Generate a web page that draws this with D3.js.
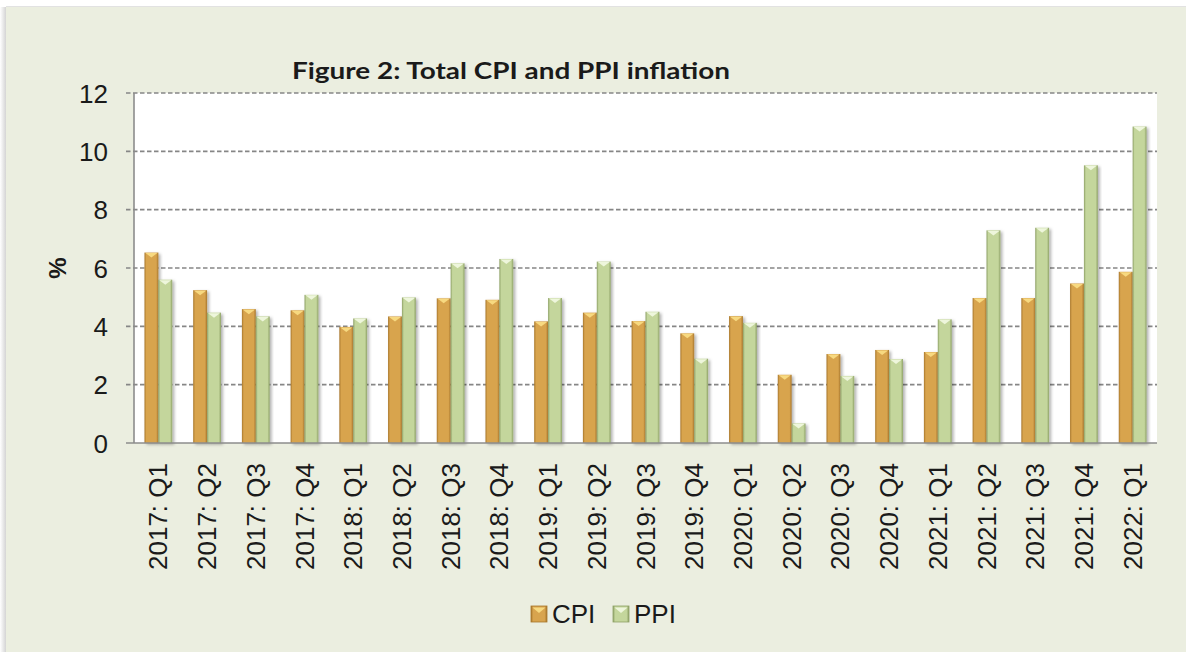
<!DOCTYPE html>
<html>
<head>
<meta charset="utf-8">
<script src="https://cdn.jsdelivr.net/npm/d3@7/dist/d3.min.js"></script>
<style>
  body { margin: 0; background: #ffffff; }
  svg { display: block; }
</style>
</head>
<body>
<div id="chart"></div>
<script>
// Quarters on the x axis
const quarters = [
    "2017: Q1", "2017: Q2", "2017: Q3", "2017: Q4",
    "2018: Q1", "2018: Q2", "2018: Q3", "2018: Q4",
    "2019: Q1", "2019: Q2", "2019: Q3", "2019: Q4",
    "2020: Q1", "2020: Q2", "2020: Q3", "2020: Q4",
    "2021: Q1", "2021: Q2", "2021: Q3", "2021: Q4",
    "2022: Q1"
];

// Inflation, %
const cpi = [6.53, 5.24, 4.59, 4.55, 3.98, 4.34, 4.96, 4.91, 4.17, 4.47, 4.18, 3.76, 4.35, 2.34, 3.05, 3.19, 3.12, 4.97, 4.97, 5.47, 5.87];
const ppi = [5.60, 4.47, 4.34, 5.08, 4.27, 4.99, 6.16, 6.31, 4.97, 6.22, 4.50, 2.89, 4.12, 0.67, 2.30, 2.88, 4.24, 7.29, 7.38, 9.52, 10.85];

const seriesNames = ["CPI", "PPI"];
const yTicks = [0, 2, 4, 6, 8, 10, 12];

const titleText = "Figure 2: Total CPI and PPI inflation";
const yLabel = "%";

// Layout
const width = 1186, height = 652;
const plot = { left: 134, right: 1157, top: 93, bottom: 443 };

const style = {
    panelFill: "#ebeee0",
    gridStroke: "#868686",
    axisStroke: "#8c8c8c",
    textColor: "#1a1a1a",
    font: "'Liberation Sans', Arial, sans-serif",
    titleFont: "Lato, 'DejaVu Sans', sans-serif"
};

const palettes = {
    CPI: { main: "#d8a44e", edge: "#a8772c", top: "#f7d980" },
    PPI: { main: "#c4d69c", edge: "#8ea166", top: "#eef6dc" }
};

const svg = d3.select("#chart").append("svg")
    .attr("width", width).attr("height", height);

const defs = svg.append("defs");

// Gradients for the bevelled bars
seriesNames.forEach(name => {
    const p = palettes[name];
    const g = defs.append("linearGradient").attr("id", "grad-" + name)
        .attr("x1", "0").attr("x2", "1").attr("y1", "0").attr("y2", "0");
    g.append("stop").attr("offset", "0%").attr("stop-color", p.edge);
    g.append("stop").attr("offset", "14%").attr("stop-color", p.main);
    g.append("stop").attr("offset", "84%").attr("stop-color", p.main);
    g.append("stop").attr("offset", "100%").attr("stop-color", p.edge);
});

const shadow = defs.append("filter").attr("id", "barShadow")
    .attr("x", "-30%").attr("y", "-10%").attr("width", "160%").attr("height", "130%");
shadow.append("feDropShadow").attr("dx", 2).attr("dy", 1.5)
    .attr("stdDeviation", 1.5).attr("flood-color", "#000").attr("flood-opacity", 0.3);

const panelShadow = defs.append("linearGradient").attr("id", "panelShadow")
    .attr("x1", "0").attr("x2", "1");
panelShadow.append("stop").attr("offset", "0%").attr("stop-color", "#ffffff");
panelShadow.append("stop").attr("offset", "100%").attr("stop-color", "#d4d4d4");

// Background panel with a soft shadow on its left edge
svg.append("rect").attr("x", 0).attr("y", 7).attr("width", 6).attr("height", height - 7)
    .attr("fill", "url(#panelShadow)");
svg.append("rect").attr("x", 6).attr("y", 7).attr("width", width - 6).attr("height", height - 7)
    .attr("fill", style.panelFill);
svg.append("rect").attr("x", 6).attr("y", 6).attr("width", width - 6).attr("height", 1)
    .attr("fill", "#e2e2e2");

// Plot area
svg.append("rect")
    .attr("x", plot.left).attr("y", plot.top)
    .attr("width", plot.right - plot.left).attr("height", plot.bottom - plot.top)
    .attr("fill", "#ffffff");

// Scales
const x0 = d3.scaleBand().domain(quarters)
    .range([plot.left, plot.right])
    .paddingInner(0.43).paddingOuter(0.215);
const x1 = d3.scaleBand().domain(seriesNames).range([0, x0.bandwidth()]);
const y = d3.scaleLinear().domain([0, 12]).range([plot.bottom, plot.top]);

// Gridlines (dashed) including the outside tick part
svg.append("g").selectAll("line")
    .data(yTicks.filter(t => t > 0))
    .join("line")
    .attr("x1", plot.left - 8).attr("x2", plot.right)
    .attr("y1", d => y(d)).attr("y2", d => y(d))
    .attr("stroke", style.gridStroke).attr("stroke-width", 1.6)
    .attr("stroke-dasharray", "4.5,2.5");

// Y axis labels
const yAxis = d3.axisLeft(y).tickValues(yTicks).tickSize(0).tickPadding(26);
const yAxisG = svg.append("g").attr("transform", `translate(${plot.left},0)`).call(yAxis);
yAxisG.select(".domain").remove();
yAxisG.selectAll("text")
    .attr("font-family", style.font).attr("font-size", 26)
    .attr("fill", style.textColor).attr("dy", "0.35em");

// Y axis title
svg.append("text")
    .attr("transform", "translate(66,268) rotate(-90)")
    .attr("text-anchor", "middle")
    .attr("font-family", style.font).attr("font-weight", "bold").attr("font-size", 24)
    .attr("fill", style.textColor)
    .text(yLabel);

// Bars
const barData = quarters.map((q, i) => ({ q, values: [
    { name: "CPI", v: cpi[i] }, { name: "PPI", v: ppi[i] }
] }));

const groups = svg.append("g").selectAll("g")
    .data(barData).join("g")
    .attr("transform", d => `translate(${x0(d.q)},0)`);

const bars = groups.selectAll("g").data(d => d.values).join("g")
    .attr("filter", "url(#barShadow)");

bars.append("rect")
    .attr("x", d => x1(d.name)).attr("width", x1.bandwidth())
    .attr("y", d => y(d.v)).attr("height", d => y(0) - y(d.v))
    .attr("fill", d => `url(#grad-${d.name})`);

bars.append("path")
    .attr("d", d => {
        const bx = x1(d.name), bw = x1.bandwidth(), by = y(d.v);
        const th = Math.min(5, y(0) - by);
        return `M${bx + 1},${by + 0.5}L${bx + bw - 1},${by + 0.5}L${bx + bw / 2},${by + th}Z`;
    })
    .attr("fill", d => palettes[d.name].top);

// Axes lines
svg.append("line")
    .attr("x1", plot.left).attr("x2", plot.left)
    .attr("y1", plot.top).attr("y2", plot.bottom)
    .attr("stroke", style.axisStroke).attr("stroke-width", 1.6);
svg.append("line")
    .attr("x1", plot.left - 8).attr("x2", plot.right)
    .attr("y1", plot.bottom).attr("y2", plot.bottom)
    .attr("stroke", style.axisStroke).attr("stroke-width", 1.6);

// X axis labels (rotated)
const xAxis = d3.axisBottom(x0).tickSize(0).tickPadding(0);
const xAxisG = svg.append("g").attr("transform", `translate(0,${plot.bottom})`).call(xAxis);
xAxisG.select(".domain").remove();
xAxisG.selectAll("text")
    .attr("font-family", style.font).attr("font-size", 26)
    .attr("fill", style.textColor)
    .attr("text-anchor", "end")
    .attr("transform", "rotate(-90)")
    .attr("x", -20).attr("y", 0).attr("dy", "0.35em");

// Title
svg.append("text")
    .attr("x", 511).attr("y", 79)
    .attr("text-anchor", "middle")
    .attr("font-family", style.titleFont).attr("font-weight", "bold").attr("font-size", 22)
    .attr("fill", style.textColor)
    .attr("textLength", 438).attr("lengthAdjust", "spacingAndGlyphs")
    .text(titleText);

// Legend
const legendPos = [531, 613];
const legend = svg.append("g").selectAll("g")
    .data(seriesNames).join("g")
    .attr("transform", (d, i) => `translate(${legendPos[i]},606)`);
legend.append("rect")
    .attr("width", 16).attr("height", 16)
    .attr("fill", d => `url(#grad-${d})`)
    .attr("stroke", d => palettes[d].edge).attr("stroke-width", 0.8);
legend.append("path")
    .attr("d", "M1.5,1.5L14.5,1.5L8,7Z")
    .attr("fill", d => palettes[d].top);
legend.append("text")
    .attr("x", 21).attr("y", 8).attr("dy", "0.35em")
    .attr("font-family", style.font).attr("font-size", 26)
    .attr("fill", style.textColor)
    .text(d => d);
</script>
</body>
</html>
